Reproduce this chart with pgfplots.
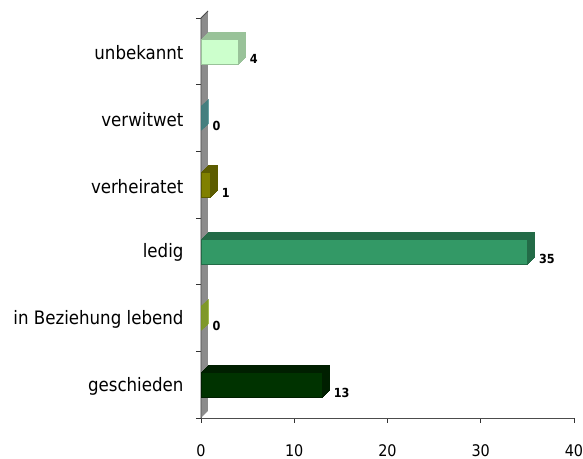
\documentclass[border=0pt]{standalone}
\usepackage{fontspec}
\setmainfont{DejaVu Sans Condensed}
\usepackage{pgfplots}
\pgfplotsset{compat=1.18}

\definecolor{unbFront}{HTML}{CCFFCC}\definecolor{unbSide}{HTML}{99C299}
\definecolor{verwFront}{HTML}{339999}\definecolor{verwSide}{HTML}{267A7A}
\definecolor{verhFront}{HTML}{808000}\definecolor{verhSide}{HTML}{5C5C00}
\definecolor{ledFront}{HTML}{339966}\definecolor{ledSide}{HTML}{236B47}
\definecolor{bezFront}{HTML}{99CC00}\definecolor{bezSide}{HTML}{7A9E00}
\definecolor{gesFront}{HTML}{003300}\definecolor{gesSide}{HTML}{001F00}
\definecolor{wallgray}{HTML}{8C8C8C}

% one 3D bar: extruded back copies in the side colour, then the front face
\newcommand{\cubebar}[3]{%
  \pgfplotsinvokeforeach{7,6,5,4,3,2,1}{%
    \addplot[xbar, bar shift=0pt, bar width=25pt, fill=#3, draw=#3,
      line width=0.8pt, xshift=##1pt, yshift=0.9*##1pt, forget plot]
      coordinates {#1};
  }%
  \addplot[xbar, bar shift=0pt, bar width=25pt, fill=#2, draw=#3,
    line width=0.6pt, nodes near coords] coordinates {#1};
}

\begin{document}
\begin{tikzpicture}
\begin{axis}[
  scale only axis, width=373pt, height=400pt,
  xmin=0, xmax=40, ymin=-0.5, ymax=5.5,
  axis x line*=bottom, axis y line*=left,
  xtick={0,10,20,30,40},
  ytick={-0.5,0.5,1.5,2.5,3.5,4.5,5.5}, yticklabels={},
  extra y ticks={0,1,2,3,4,5},
  extra y tick labels={geschieden,in Beziehung lebend,ledig,verheiratet,verwitwet,unbekannt},
  extra y tick style={major tick length=0pt},
  tick align=outside, major tick length=5pt,
  tick style={black!80, line width=0.6pt},
  axis line style={black!70, line width=0.8pt},
  yticklabel style={font=\fontsize{18.5}{20}\selectfont, xshift=-14pt, yshift=-1.5pt},
  xticklabel style={font=\fontsize{16}{17}\selectfont, yshift=-18pt},
  /pgf/number format/assume math mode=true,
  every node near coord/.append style={font=\bfseries\fontsize{12.5}{13}\selectfont,
    black, anchor=west, xshift=8pt, yshift=-8pt},
  clip=false,
]
% side wall
\fill[wallgray] (axis cs:0,-0.5) -- (axis cs:0,5.5)
  -- ([shift={(7pt,7pt)}]axis cs:0,5.5) -- ([shift={(7pt,7pt)}]axis cs:0,-0.5) -- cycle;
\draw[black!70, line width=0.8pt] (axis cs:0,-0.5) -- (axis cs:0,5.5)
  -- ([shift={(7pt,7pt)}]axis cs:0,5.5);

\cubebar{(13,0)}{gesFront}{gesSide}
\cubebar{(0,1)}{bezFront}{bezSide}
\cubebar{(35,2)}{ledFront}{ledSide}
\cubebar{(1,3)}{verhFront}{verhSide}
\cubebar{(0,4)}{verwFront}{verwSide}
\cubebar{(4,5)}{unbFront}{unbSide}
\end{axis}
\pgfresetboundingbox
\path[use as bounding box] ([shift={(-201pt,-41pt)}]current axis.south west)
  rectangle ([shift={(9pt,18pt)}]current axis.north east);
\end{tikzpicture}
\end{document}
